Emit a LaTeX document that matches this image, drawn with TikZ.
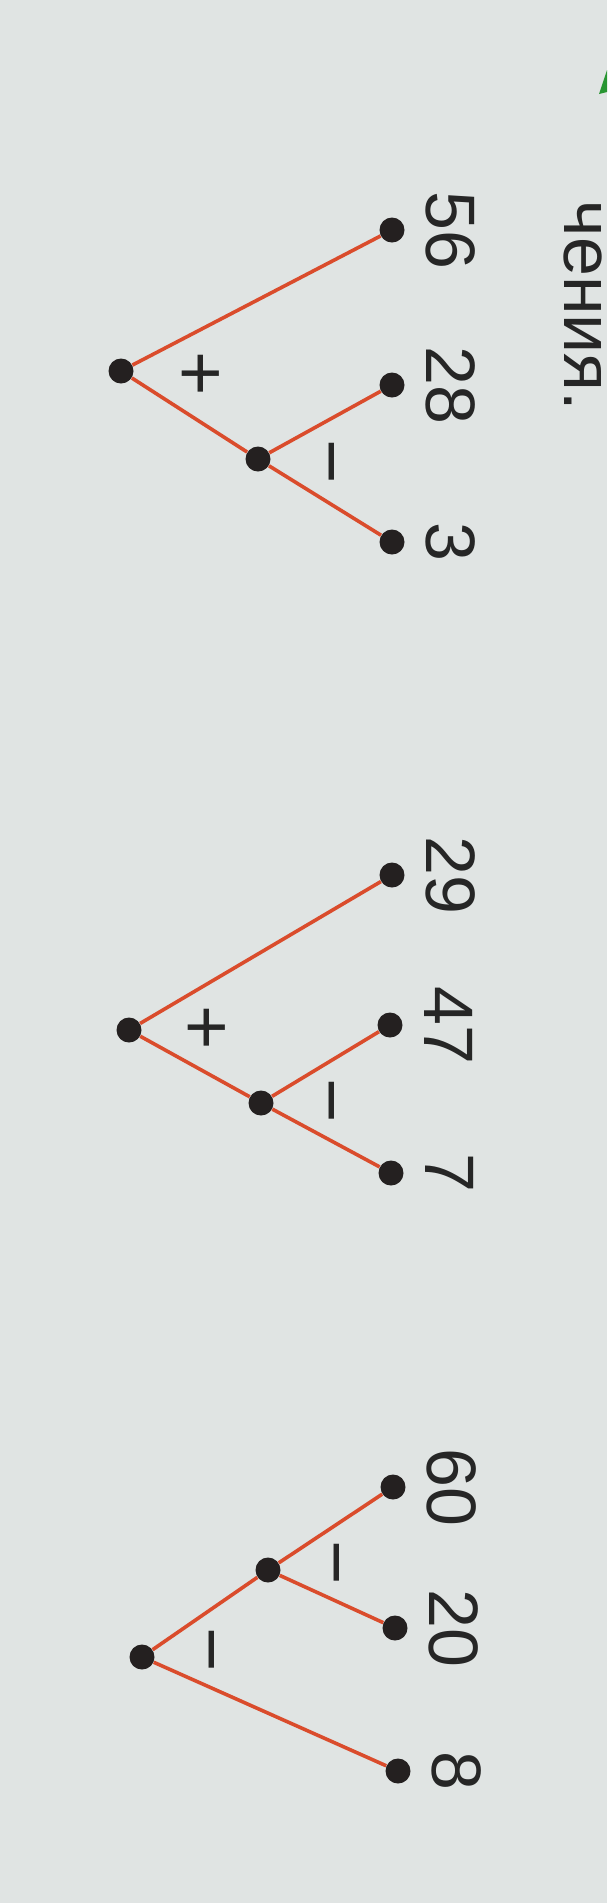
\documentclass[tikz,border=0pt]{standalone}
\usepackage{fontspec}
\setmainfont{Liberation Sans}
\usetikzlibrary{positioning}
\definecolor{pagegray}{RGB}{224,228,227}
\definecolor{branchred}{RGB}{218,76,44}
\definecolor{dotblack}{RGB}{36,32,32}
\definecolor{inkgray}{RGB}{38,38,38}
\definecolor{leafgreen}{RGB}{40,150,50}

\begin{document}
\begin{tikzpicture}[x=0.5pt,y=-0.5pt,
        dot/.style={circle,fill=dotblack,inner sep=0pt,minimum size=12.5pt},
        num/.style={rotate=-90,inner sep=0pt,text=inkgray,
            font=\fontsize{35}{42}\selectfont},
        sign/.style={num,font=\fontsize{38}{44}\selectfont},
        branch/.style={draw=branchred,line width=1.8pt}
    ]
\path[fill=pagegray] (0,0) rectangle (607,1903);
\fill[leafgreen] (607,70) -- (599,94) -- (607,92) -- cycle;
\node[num,anchor=south] (head) at (563,306) {чения.};

\path (121,371) node[dot] (r1) {}
    (258,459) node[dot] (m1) {}
    (392,230) node[dot] (d56) {}
    (392,385) node[dot] (d28) {}
    (392,542) node[dot] (d3) {};
\draw[branch] (r1) -- (d56);
\draw[branch] (r1) -- (m1);
\draw[branch] (m1) -- (d28);
\draw[branch] (m1) -- (d3);
\node[num,right=10.5pt of d56,anchor=south] (n56) {56};
\node[num,right=10.5pt of d28,anchor=south] (n28) {28};
\node[num,right=10.5pt of d3,anchor=south] (n3) {3};
\node[sign] (plus1) at (197,374) {+};
\node[sign] (minus1) at (320,462) {−};

\path (129,1030) node[dot] (r2) {}
    (261,1103) node[dot] (m2) {}
    (392,875) node[dot] (d29) {}
    (390,1025) node[dot] (d47) {}
    (391,1173) node[dot] (d7) {};
\draw[branch] (r2) -- (d29);
\draw[branch] (r2) -- (m2);
\draw[branch] (m2) -- (d47);
\draw[branch] (m2) -- (d7);
\node[num,right=10.5pt of d29,anchor=south] (n29) {29};
\node[num,right=10.5pt of d47,anchor=south] (n47) {47};
\node[num,right=10.5pt of d7,anchor=south] (n7) {7};
\node[sign] (plus2) at (203,1028) {+};
\node[sign] (minus2) at (320,1101) {−};

\path (142,1657) node[dot] (r3) {}
    (268,1570) node[dot] (m3) {}
    (393,1487) node[dot] (d60) {}
    (395,1628) node[dot] (d20) {}
    (398,1771) node[dot] (d8) {};
\draw[branch] (r3) -- (m3);
\draw[branch] (m3) -- (d60);
\draw[branch] (m3) -- (d20);
\draw[branch] (r3) -- (d8);
\node[num,right=10.5pt of d60,anchor=south] (n60) {60};
\node[num,right=10.5pt of d20,anchor=south] (n20) {20};
\node[num,right=10.5pt of d8,anchor=south] (n8) {8};
\node[sign] (minus3) at (325,1563) {−};
\node[sign] (minus4) at (200,1650) {−};
\end{tikzpicture}
\end{document}
